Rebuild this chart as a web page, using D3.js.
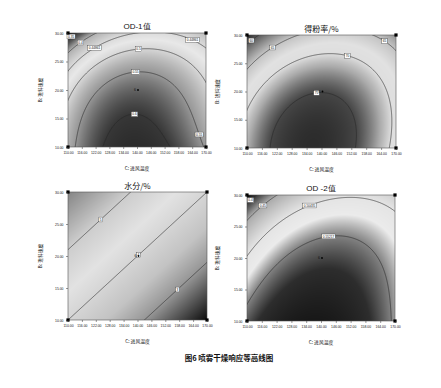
<!DOCTYPE html>
<html>
<head>
<meta charset="utf-8">
<script src="https://cdn.jsdelivr.net/npm/d3@7"></script>
<style>
body { margin: 0; background: #fff; }
svg { display: block; }
text { font-family: "Liberation Sans", Arial, sans-serif; fill: #111; }
.cjk { font-family: "Noto Sans CJK SC", sans-serif; }
</style>
</head>
<body>
<svg id="chart" width="441" height="388"></svg>
<script>
const xTicks = [110, 116, 122, 128, 134, 140, 146, 152, 158, 164, 170];
const yTicks = [10, 15, 20, 25, 30];
const xName = "C: 进风温度";
const yName = "B: 进料速度";
const caption = "图6  喷雾干燥响应等高线图";

// design points (corners) and centre point with its replicate count
const designPts = [[110, 10], [170, 10], [110, 30], [170, 30]];
const centrePt = [140, 20, "6"];

// response surface models in coded units A=(T-140)/30, B=(F-20)/10
// terms: 1, A, B, AB, A², B², A²B, AB², A³, B³
const od1Coef = [0.5768, -0.0006189, -0.06966, 0.01899, -0.08019, -0.04213, 0.0005715, 0.01562, 0.01113, -0.01494];
const od1Levels = [0.6, 0.55, 0.5, 0.45, 0.4, 0.35];
const od1Labels = [[0.6, 139, 17, "0.6"], [0.55, 139.2, 23.7, "0.55"], [0.55, 168.6, 12.5, "0.55"], [0.5, 140.7, 27.7, "0.5"],
  [0.45, 121.1, 27.5, "0.44861"], [0.45, 164.5, 28.9, "0.44861"], [0.4, 115.3, 28.4, "0.4"], [0.35, 110.8, 29.6, "0.35"]];
const od1GrayAt = [0.33, 0.37, 0.4, 0.45, 0.475, 0.5, 0.55, 0.6, 0.64];
const od1Gray = [15, 90, 175, 218, 232, 215, 150, 55, 30];

const yieldCoef = [74.90, -0.02435, -5.172, 1.974, -6.517, -3.164, 0.5003, 0.2540, 0.2318, -0.3050];
const yieldLevels = [75, 70, 65, 60];
const yieldLabels = [[75, 138.3, 19.2, "75"], [70, 150.8, 26.6, "70"], [65, 120.5, 27.5, "65"], [65, 165.6, 29.1, "65"], [60, 110.8, 29.4, "60"]];
const yieldGrayAt = [57, 61, 65, 68, 70, 72, 75, 79];
const yieldGray = [15, 110, 195, 225, 222, 170, 70, 25];

const waterCoef = [4, -0.91, 0.91, 0, 0, 0, 0, 0, 0, 0];
const waterLevels = [5, 4, 3];
const waterLabels = [[5, 123.7, 25.9, "5"], [4, 139.9, 20.3, "4"], [3, 156.6, 15.1, "3"]];
const waterGrayAt = [2.2, 3, 3.5, 4, 4.4, 5, 5.8];
const waterGray = [15, 150, 195, 213, 226, 205, 135];

const od2Coef = [0.5704, 0.01362, -0.05740, 0.02455, -0.05303, -0.01899, 0.006745, -0.001060, 0.001442, -0.005311];
const od2Levels = [0.55, 0.5, 0.45, 0.42];
const od2Labels = [[0.55, 142.9, 23.7, "0.55217"], [0.5, 135.2, 28.7, "0.50435"], [0.45, 117.2, 28, "0.45"], [0.42, 110.8, 29.5, "0.4"]];
const od2GrayAt = [0.41, 0.43, 0.45, 0.5, 0.525, 0.55, 0.58, 0.62];
const od2Gray = [20, 90, 170, 228, 235, 130, 45, 20];

function basis(a, b) {
  return [1, a, b, a * b, a * a, b * b, a * a * b, a * b * b, a * a * a, b * b * b];
}

const panels = [
  { title: "OD-1值", x0: 68, y0: 33, x1: 206, y1: 147, titleY: 29, yLabX: 40, coef: od1Coef, levels: od1Levels,
    labels: od1Labels, grayAt: od1GrayAt, gray: od1Gray, titleSans: true },
  { title: "得粉率/%", x0: 247, y0: 35, x1: 396, y1: 148, titleY: 32, yLabX: 217, coef: yieldCoef, levels: yieldLevels,
    labels: yieldLabels, grayAt: yieldGrayAt, gray: yieldGray },
  { title: "水分/%", x0: 68, y0: 192, x1: 207, y1: 320, titleY: 189, yLabX: 40, coef: waterCoef, levels: waterLevels,
    labels: waterLabels, grayAt: waterGrayAt, gray: waterGray },
  { title: "OD -2值", x0: 247, y0: 195, x1: 395, y1: 321, titleY: 191, yLabX: 217, coef: od2Coef, levels: od2Levels,
    labels: od2Labels, grayAt: od2GrayAt, gray: od2Gray, titleSans: true }
];

const svg = d3.select("#chart");

panels.forEach((p, pi) => {
  const x = d3.scaleLinear().domain([110, 170]).range([p.x0, p.x1]);
  const y = d3.scaleLinear().domain([10, 30]).range([p.y1, p.y0]);
  const model = (t, f) => {
    const r = basis((t - 140) / 30, (f - 20) / 10);
    let s = 0;
    for (let i = 0; i < r.length; i++) s += r[i] * p.coef[i];
    return s;
  };
  const gray = d3.scaleLinear().domain(p.grayAt).range(p.gray).clamp(true);
  const W = p.x1 - p.x0, H = p.y1 - p.y0;

  // shaded surface
  const cv = document.createElement("canvas");
  cv.width = W; cv.height = H;
  const ctx = cv.getContext("2d");
  const img = ctx.createImageData(W, H);
  for (let j = 0; j < H; j++) {
    for (let i = 0; i < W; i++) {
      const g = Math.round(gray(model(x.invert(p.x0 + i + 0.5), y.invert(p.y0 + j + 0.5))));
      const k = (j * W + i) * 4;
      img.data[k] = img.data[k + 1] = img.data[k + 2] = g;
      img.data[k + 3] = 255;
    }
  }
  ctx.putImageData(img, 0, 0);

  const g = svg.append("g");
  g.append("image")
    .attr("x", p.x0).attr("y", p.y0)
    .attr("width", W).attr("height", H)
    .attr("preserveAspectRatio", "none")
    .attr("href", cv.toDataURL());

  // contour lines, sampled a little past the frame and clipped to it
  const m = 3, nx = W + 2 * m, ny = H + 2 * m;
  const vals = new Array(nx * ny);
  for (let j = 0; j < ny; j++)
    for (let i = 0; i < nx; i++)
      vals[j * nx + i] = model(x.invert(p.x0 - m + i + 0.5), y.invert(p.y0 - m + j + 0.5));
  const cs = d3.contours().size([nx, ny]).thresholds(p.levels)(vals);

  svg.append("clipPath").attr("id", "clip" + pi)
    .append("rect").attr("x", p.x0).attr("y", p.y0).attr("width", W).attr("height", H);

  g.append("g")
    .attr("clip-path", `url(#clip${pi})`)
    .append("g")
    .attr("transform", `translate(${p.x0 - m},${p.y0 - m})`)
    .selectAll("path")
    .data(cs)
    .join("path")
    .attr("d", d3.geoPath())
    .attr("fill", "none")
    .attr("stroke", "#262626")
    .attr("stroke-width", 0.6);

  // frame
  g.append("rect")
    .attr("x", p.x0).attr("y", p.y0).attr("width", W).attr("height", H)
    .attr("fill", "none").attr("stroke", "#555").attr("stroke-width", 0.6);

  // contour labels snapped to the nearest point of their line
  p.labels.forEach(([lv, t, f, txt]) => {
    const c = cs.find(d => d.value === lv);
    if (!c) return;
    const ax = x(t), ay = y(f);
    let best = null, bd = 1e9;
    c.coordinates.forEach(poly => poly.forEach(ring => ring.forEach(([u, w]) => {
      const px = p.x0 - m + u, py = p.y0 - m + w;
      if (px < p.x0 + 1 || px > p.x1 - 1 || py < p.y0 + 1 || py > p.y1 - 1) return;
      const d = (px - ax) ** 2 + (py - ay) ** 2;
      if (d < bd) { bd = d; best = [px, py]; }
    })));
    if (!best || bd > 150) return;
    const lg = g.append("g").attr("transform", `translate(${best[0]},${best[1]})`);
    const rect = lg.append("rect");
    const tx = lg.append("text").attr("text-anchor", "middle").attr("dy", "0.35em")
      .attr("font-size", 3.2).text(txt);
    const w = tx.node().getComputedTextLength() + 2;
    rect.attr("x", -w / 2).attr("y", -2.4).attr("width", w).attr("height", 4.8)
      .attr("fill", "#fff").attr("stroke", "#333").attr("stroke-width", 0.35);
  });

  // design points
  g.selectAll(".dp").data(designPts).join("rect")
    .attr("x", d => x(d[0]) - 1.6).attr("y", d => y(d[1]) - 1.6)
    .attr("width", 3.2).attr("height", 3.2).attr("fill", "#000");
  g.append("circle").attr("cx", x(centrePt[0]) + 1).attr("cy", y(centrePt[1])).attr("r", 0.9).attr("fill", "#000");
  g.append("text").attr("x", x(centrePt[0]) - 1).attr("y", y(centrePt[1])).attr("dy", "0.35em")
    .attr("text-anchor", "end").attr("font-size", 3.5).text(centrePt[2]);

  // axes
  const xa = g.append("g").attr("transform", `translate(0,${p.y1})`)
    .call(d3.axisBottom(x).tickValues(xTicks).tickFormat(d3.format(".2f")).tickSize(2).tickPadding(2.5));
  const ya = g.append("g").attr("transform", `translate(${p.x0},0)`)
    .call(d3.axisLeft(y).tickValues(yTicks).tickFormat(d3.format(".2f")).tickSize(2).tickPadding(2.5));
  [xa, ya].forEach(a => {
    a.select(".domain").remove();
    a.selectAll("line").attr("stroke", "#333").attr("stroke-width", 0.5);
    a.selectAll("text").attr("font-size", 3.4).attr("fill", "#333");
  });

  g.append("text").attr("class", p.titleSans ? "" : "cjk")
    .attr("x", (p.x0 + p.x1) / 2).attr("y", p.titleY)
    .attr("text-anchor", "middle").attr("font-size", 8).text(p.title);
  g.append("text").attr("class", "cjk")
    .attr("x", (p.x0 + p.x1) / 2).attr("y", p.y1 + 23)
    .attr("text-anchor", "middle").attr("font-size", 4.8).attr("fill", "#333").text(xName);
  g.append("text").attr("class", "cjk")
    .attr("transform", `translate(${p.yLabX},${(p.y0 + p.y1) / 2}) rotate(-90)`)
    .attr("text-anchor", "middle").attr("dy", "0.35em").attr("font-size", 4.8).attr("fill", "#333").text(yName);
});

svg.append("text").attr("class", "cjk")
  .attr("x", 229).attr("y", 361)
  .attr("text-anchor", "middle").attr("font-size", 7.5).attr("font-weight", "bold").text(caption);
</script>
</body>
</html>
